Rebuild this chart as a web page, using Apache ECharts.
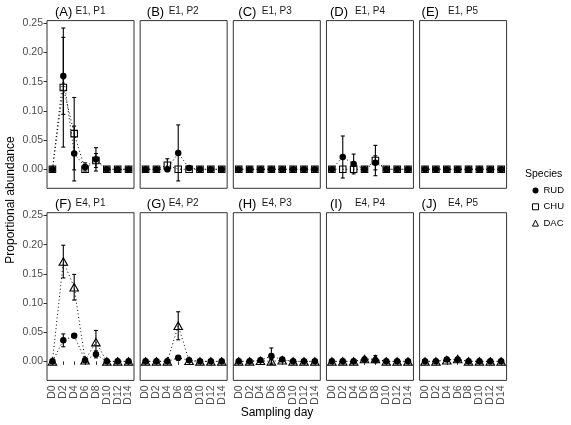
<!DOCTYPE html>
<html>
<head>
<meta charset="utf-8">
<script src="https://cdn.jsdelivr.net/npm/echarts@6/dist/echarts.min.js"></script>
<style>
html,body{margin:0;padding:0;background:#fff;}
#chart{width:571px;height:425px;}
</style>
</head>
<body>
<div id="chart"></div>
<script>
// ---------- data ----------
const days = ['D0','D2','D4','D6','D8','D10','D12','D14'];
const yTicks = [0, 0.05, 0.10, 0.15, 0.20, 0.25];
const panelTags = ['(A)','(B)','(C)','(D)','(E)','(F)','(G)','(H)','(I)','(J)'];
const panelStrips = ['E1, P1','E1, P2','E1, P3','E1, P4','E1, P5','E4, P1','E4, P2','E4, P3','E4, P4','E4, P5'];
const speciesNames = ['RUD','CHU','DAC'];

// mean proportional abundance per panel (rows) and sampling day (cols)
const rudMean = [
  [0, 0.160, 0.027, 0.004, 0.017, 0, 0, 0],
  [0, 0, 0, 0.028, 0.002, 0, 0, 0],
  [0, 0, 0, 0, 0, 0, 0, 0],
  [0, 0.021, 0.009, 0, 0.011, 0, 0, 0],
  [0, 0, 0, 0, 0, 0, 0, 0],
  [0, 0.036, 0.044, 0.002, 0.012, 0, 0, 0],
  [0, 0, 0, 0.006, 0.002, 0, 0, 0],
  [0, 0, 0.002, 0.009, 0.003, 0, 0, 0],
  [0, 0, 0, 0.003, 0.002, 0, 0, 0],
  [0, 0, 0.003, 0.003, 0, 0, 0, 0]
];
const rudErr = [
  [0, 0.066, 0.047, 0.007, 0.020, 0, 0, 0],
  [0, 0, 0, 0.048, 0.003, 0, 0, 0],
  [0, 0, 0, 0, 0, 0, 0, 0],
  [0, 0.036, 0.017, 0, 0.012, 0, 0, 0],
  [0, 0, 0, 0, 0, 0, 0, 0],
  [0, 0.011, 0.002, 0.003, 0.006, 0, 0, 0],
  [0, 0, 0, 0.004, 0.002, 0, 0, 0],
  [0, 0, 0.002, 0.014, 0.002, 0, 0, 0],
  [0, 0, 0, 0.003, 0.002, 0, 0, 0],
  [0, 0, 0.002, 0.002, 0, 0, 0, 0]
];
const chuMean = [
  [0, 0.140, 0.061, 0, 0.015, 0, 0, 0],
  [0, 0, 0.007, 0, 0, 0, 0, 0],
  [0, 0, 0, 0, 0, 0, 0, 0],
  [0, 0, 0, 0, 0.015, 0, 0, 0],
  [0, 0, 0, 0, 0, 0, 0, 0],
  null, null, null, null, null
];
const chuErr = [
  [0, 0.102, 0.062, 0, 0.012, 0, 0, 0],
  [0, 0, 0.011, 0, 0, 0, 0, 0],
  [0, 0, 0, 0, 0, 0, 0, 0],
  [0, 0, 0, 0, 0.026, 0, 0, 0],
  [0, 0, 0, 0, 0, 0, 0, 0],
  null, null, null, null, null
];
const dacMean = [
  null, null, null, null, null,
  [0, 0.171, 0.127, 0.002, 0.033, 0, 0, 0],
  [0, 0, 0, 0.061, 0.001, 0, 0, 0],
  [0, 0, 0.001, 0, 0.002, 0, 0, 0],
  [0, 0, 0, 0.004, 0.004, 0, 0, 0],
  [0, 0, 0.002, 0.004, 0, 0, 0, 0]
];
const dacErr = [
  null, null, null, null, null,
  [0, 0.028, 0.022, 0.002, 0.020, 0, 0, 0],
  [0, 0, 0, 0.024, 0, 0, 0, 0],
  [0, 0, 0, 0.003, 0.002, 0, 0, 0],
  [0, 0, 0, 0.003, 0.006, 0, 0, 0],
  [0, 0, 0.002, 0.002, 0, 0, 0, 0]
];

// ---------- layout / style ----------
const FONT = 'Liberation Sans, Arial, Helvetica, sans-serif';
const colStep = 93.15, panelW = 87, panelH = 167.7;
const leftStart = 47;
const rowTops = [20.6, 212.7];
const tagOffsets = [8, 6.7, 5, 3.5, 2];
const Y_MIN = -0.0326, Y_MAX = 0.2547;

const symbolDefs = {
  RUD: {symbol: 'circle', size: 6.5, itemStyle: {color: '#000', borderColor: '#000', borderWidth: 0}},
  CHU: {symbol: 'rect', size: 6.5, itemStyle: {color: 'rgba(0,0,0,0)', borderColor: '#000', borderWidth: 1.1}},
  DAC: {symbol: 'triangle', size: [8.5, 7.5], itemStyle: {color: 'rgba(0,0,0,0)', borderColor: '#000', borderWidth: 1.1}}
};

const chart = echarts.init(document.getElementById('chart'), null, {renderer: 'canvas'});

const grids = [], xAxes = [], yAxes = [], series = [], graphics = [];
const means = {RUD: rudMean, CHU: chuMean, DAC: dacMean};
const errs = {RUD: rudErr, CHU: chuErr, DAC: dacErr};

function errRender(params, api) {
  const x = api.value(0), lo = api.value(1), hi = api.value(2);
  const p1 = api.coord([x, lo]);
  const p2 = api.coord([x, hi]);
  const hw = 2;
  const st = {stroke: '#000', lineWidth: 1.1};
  return {
    type: 'group',
    children: [
      {type: 'line', shape: {x1: p1[0], y1: p1[1], x2: p2[0], y2: p2[1]}, style: st},
      {type: 'line', shape: {x1: p1[0]-hw, y1: p1[1], x2: p1[0]+hw, y2: p1[1]}, style: st},
      {type: 'line', shape: {x1: p2[0]-hw, y1: p2[1], x2: p2[0]+hw, y2: p2[1]}, style: st}
    ]
  };
}

for (let i = 0; i < 10; i++) {
  const row = Math.floor(i / 5), col = i % 5;
  const left = leftStart + col * colStep;
  const top = rowTops[row];
  grids.push({left: left, top: top, width: panelW, height: panelH, show: true,
    borderColor: '#333', borderWidth: 1, backgroundColor: 'transparent', containLabel: false});
  const bottomRow = row === 1, leftCol = col === 0;
  xAxes.push({
    type: 'category', gridIndex: i, data: days, boundaryGap: true,
    axisLine: {show: false}, splitLine: {show: false},
    axisTick: {show: bottomRow, alignWithLabel: true, interval: 0, length: 3.5, lineStyle: {color: '#333', width: 1}},
    axisLabel: {show: bottomRow, interval: 0, rotate: 90, margin: 5,
      color: '#4d4d4d', fontSize: 10.5, fontFamily: FONT}
  });
  yAxes.push({
    type: 'value', gridIndex: i, min: Y_MIN, max: Y_MAX,
    axisLine: {show: false}, splitLine: {show: false},
    axisTick: {show: leftCol, customValues: yTicks, length: 3.5, lineStyle: {color: '#333', width: 1}},
    axisLabel: {show: leftCol, customValues: yTicks, margin: 4,
      showMinLabel: true, showMaxLabel: true,
      formatter: v => v.toFixed(2), color: '#4d4d4d', fontSize: 10.5, fontFamily: FONT}
  });
  speciesNames.forEach(sp => {
    const m = means[sp][i], e = errs[sp][i];
    if (!m) return;
    const ebData = [];
    m.forEach((v, j) => { if (e[j] > 0) ebData.push([j, v - e[j], v + e[j]]); });
    series.push({
      type: 'custom', name: sp + '_err', xAxisIndex: i, yAxisIndex: i,
      renderItem: errRender, data: ebData, encode: {x: 0, y: [1, 2]}, z: 2, silent: true
    });
    const def = symbolDefs[sp];
    series.push({
      type: 'line', name: sp, xAxisIndex: i, yAxisIndex: i,
      data: m.map((v, j) => [j, v]),
      symbol: def.symbol, symbolSize: def.size, showSymbol: true, showAllSymbol: true,
      itemStyle: def.itemStyle,
      lineStyle: {color: '#000', width: 1, type: [1, 2.6]},
      emphasis: {disabled: true}, z: sp === 'RUD' ? 3 : 4, silent: true
    });
  });
  // panel tag and strip label
  graphics.push({type: 'text', left: left + tagOffsets[col], top: top - 14.5,
    style: {text: panelTags[i], font: '13px ' + FONT, fill: '#000'}});
  graphics.push({type: 'text', x: left + panelW / 2, y: top - 9.2,
    style: {text: panelStrips[i], font: '10px ' + FONT, fill: '#1a1a1a', textAlign: 'center', textVerticalAlign: 'middle'}});
}

// axis titles
graphics.push({type: 'text', x: 277, y: 413,
  style: {text: 'Sampling day', font: '12px ' + FONT, fill: '#000', textAlign: 'center', textVerticalAlign: 'middle'}});
graphics.push({type: 'text', x: 11, y: 200, rotation: Math.PI / 2,
  style: {text: 'Proportional abundance', font: '12px ' + FONT, fill: '#000', textAlign: 'center', textVerticalAlign: 'middle'}});
// legend title
graphics.push({type: 'text', x: 525, y: 174,
  style: {text: 'Species', font: '10.5px ' + FONT, fill: '#000', textAlign: 'left', textVerticalAlign: 'middle'}});

const option = {
  animation: false,
  backgroundColor: '#fff',
  grid: grids, xAxis: xAxes, yAxis: yAxes, series: series,
  graphic: graphics,
  legend: {
    orient: 'vertical', left: 527, top: 180.5, selectedMode: false,
    itemWidth: 6, itemHeight: 6, itemGap: 6.3,
    textStyle: {fontSize: 9.5, fontFamily: FONT, color: '#000'},
    data: [
      {name: 'RUD', icon: 'circle', itemStyle: {color: '#000', borderWidth: 0}},
      {name: 'CHU', icon: 'rect', itemStyle: {color: 'rgba(0,0,0,0)', borderColor: '#000', borderWidth: 1}},
      {name: 'DAC', icon: 'triangle', itemStyle: {color: 'rgba(0,0,0,0)', borderColor: '#000', borderWidth: 1}}
    ]
  }
};
chart.setOption(option);
</script>
</body>
</html>
